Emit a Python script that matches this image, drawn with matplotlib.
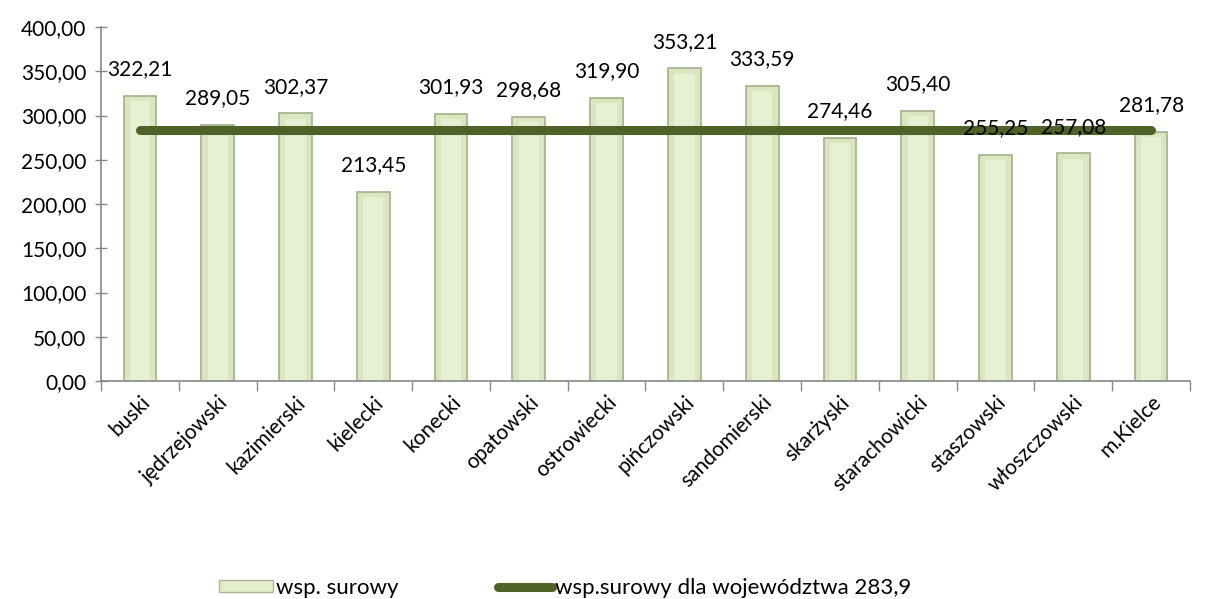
import numpy as np
import matplotlib.pyplot as plt
from matplotlib.lines import Line2D
from matplotlib.patches import Patch

powiaty = ['buski', 'jędrzejowski', 'kazimierski', 'kielecki', 'konecki',
           'opatowski', 'ostrowiecki', 'pińczowski', 'sandomierski',
           'skarżyski', 'starachowicki', 'staszowski', 'włoszczowski',
           'm.Kielce']
wsp_surowy = [322.21, 289.05, 302.37, 213.45, 301.93, 298.68, 319.90,
              353.21, 333.59, 274.46, 305.40, 255.25, 257.08, 281.78]
wsp_woj = 283.9

plt.rcParams['font.family'] = ['Lato', 'DejaVu Sans']
fs = 15

fig = plt.figure(figsize=(12.06, 5.99), dpi=100)
ax = fig.add_axes([101 / 1206, 1 - 381 / 599, (1190 - 101) / 1206, (381 - 27) / 599])

x = np.arange(len(powiaty))
# bar with a lighter inner strip to hint at the bevelled look
ax.bar(x, wsp_surowy, width=0.42, color='#d9e6bf', edgecolor='#a3b08a',
       linewidth=1.2, zorder=2)
ax.bar(x, np.array(wsp_surowy) - 6, width=0.26, color='#e6f0d3',
       linewidth=0, zorder=2)
ax.plot(x, [wsp_woj] * len(x), color='#4f6228', linewidth=6.5,
        solid_capstyle='round', zorder=3)

fmt = lambda v: '{:.2f}'.format(v).replace('.', ',')
for xi, v in zip(x, wsp_surowy):
    ax.annotate(fmt(v), xy=(xi, v), xytext=(0, 12), textcoords='offset points',
                ha='center', va='bottom', fontsize=fs, zorder=4)

ax.set_xlim(-0.5, len(powiaty) - 0.5)
ax.set_ylim(0, 400)
ax.set_yticks(np.arange(0, 401, 50))
ax.set_yticklabels([fmt(t) for t in np.arange(0, 401, 50)], fontsize=fs)
ax.set_xticks(x)
ax.set_xticklabels(powiaty, rotation=45, ha='right', rotation_mode='anchor',
                   fontsize=fs)
ax.set_xticks(np.arange(-0.5, len(powiaty)), minor=True)
ax.tick_params(axis='x', which='major', length=0, pad=8)
ax.tick_params(axis='x', which='minor', length=7, width=1, color='#888888',
               direction='out')
ax.tick_params(axis='y', length=9, width=1, color='#888888', direction='inout',
               pad=6)
for s in ['top', 'right']:
    ax.spines[s].set_visible(False)
for s in ['left', 'bottom']:
    ax.spines[s].set_color('#888888')
    ax.spines[s].set_linewidth(1.2)

handles = [Patch(facecolor='#e2eec9', edgecolor='#aab792'),
           Line2D([0], [0], color='#4f6228', linewidth=6.5,
                  solid_capstyle='round')]
fig.legend(handles, ['wsp. surowy', 'wsp.surowy dla województwa 283,9'],
           loc='center left', bbox_to_anchor=(199 / 1206, 1 - 588 / 599),
           ncol=2, frameon=False, fontsize=16, handlelength=2.43,
           handleheight=0.5, handletextpad=0.13, columnspacing=4.5)

fig.savefig('out.png', dpi=100)
